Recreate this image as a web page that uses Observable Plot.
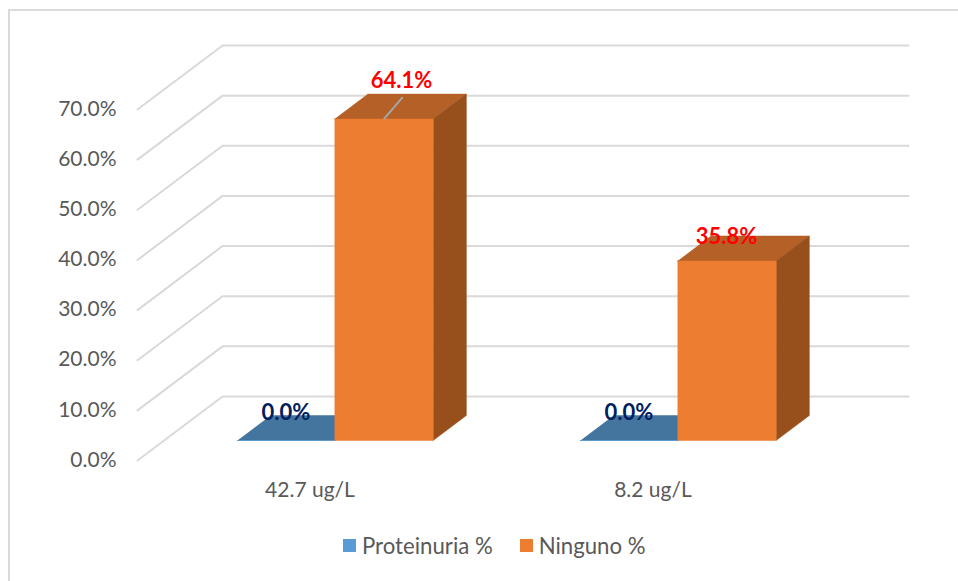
<!DOCTYPE html>
<html><head><meta charset="utf-8">
<script src="https://cdn.jsdelivr.net/npm/d3@7"></script>
<script src="https://cdn.jsdelivr.net/npm/@observablehq/plot@0.6"></script>
<style>
html,body{margin:0;padding:0;background:#fff;overflow:hidden}
#frame{position:absolute;left:8px;top:9px;right:0;bottom:0;border-left:2.5px solid #d9d9d9;border-top:2.5px solid #d9d9d9}
#chart{position:absolute;left:0;top:0}
#chart svg{background:transparent}
#legend{position:absolute;left:343px;top:532px;display:flex;align-items:center;font:22.2px Lato,sans-serif;color:#595959;white-space:nowrap}
#legend i{display:inline-block;width:13px;height:13px;margin-right:6px}
</style></head><body>
<div id="frame"></div><div id="chart"></div>
<div id="legend"></div>
<script>
const categories = ["42.7 ug/L", "8.2 ug/L"];
const seriesNames = ["Proteinuria %", "Ninguno %"];
const proteinuria = [0, 0];
const ninguno = [64.1, 35.8];
const yTicks = [0, 10, 20, 30, 40, 50, 60, 70];

const colors = {
  blue: {front: "#5b9bd5", top: "#44759f", side: "#3f6c94", label: "#002060"},
  orange: {front: "#ed7d31", top: "#b46027", side: "#974f1c", label: "#ff0000"}
};

// oblique projection: depth d (0 = front of floor, 1 = back wall) shifts x and y in data units
const depthX = 0.248, depthY = 12.77;
const px = (u, d) => u + d * depthX;
const py = (v, d) => v + d * depthY;
const barWidth = 0.2875, d0 = 0.3125, d1 = 0.703, barStart = 0.497;

function faces(values, offset, width) {
  const front = [], top = [], side = [];
  values.forEach((v, i) => {
    const a = i + offset, b = a + width;
    const add = (arr, pts) => pts.forEach(([u, val, d]) => arr.push({bar: i, x: px(u, d), y: py(val, d)}));
    add(front, [[a,0,d0],[b,0,d0],[b,v,d0],[a,v,d0]]);
    add(top, [[a,v,d0],[b,v,d0],[b,v,d1],[a,v,d1]]);
    add(side, [[b,0,d0],[b,0,d1],[b,v,d1],[b,v,d0]]);
  });
  return {front, top, side};
}
function barMarks(values, offset, width, c) {
  const f = faces(values, offset, width);
  const m = (data, fill) => Plot.line(data, {x: "x", y: "y", z: "bar", fill, stroke: fill, strokeWidth: 0.5});
  return [m(f.top, c.top), m(f.side, c.side), m(f.front, c.front)];
}

const grid = yTicks.flatMap(t => [
  {t, x: px(0, 0), y: py(t, 0)},
  {t, x: px(0, 1), y: py(t, 1)},
  {t, x: px(2, 1), y: py(t, 1)}
]);

const blueLabels = proteinuria.map((v, i) => ({x: px(i + 0.5 - barWidth / 2, (d0 + d1) / 2), y: py(v, d1), text: v.toFixed(1) + "%"}));
const orangeLabels = ninguno.map((v, i) => ({x: px(i + 0.5 + barWidth / 2, (d0 + d1) / 2), y: py(v, d1), text: v.toFixed(1) + "%"}));
const leader = {x1: px(barStart + barWidth / 2, d0), y1: py(ninguno[0], d0)};
const labelFont = {fontWeight: "bold", fontSize: 22, fontFamily: "Lato", text: "text", x: "x", y: "y"};

const plot = Plot.plot({
  width: 958, height: 530,
  marginLeft: 137, marginRight: 50, marginTop: 45, marginBottom: 70,
  style: {background: "transparent", overflow: "visible"},
  x: {domain: [0, 2 + depthX], axis: null},
  y: {domain: [0, 70 + depthY], axis: null},
  marks: [
    Plot.line(grid, {x: "x", y: "y", z: "t", stroke: "#d9d9d9", strokeWidth: 2}),
    ...barMarks(proteinuria, barStart - 0.283, 0.283, colors.blue),
    ...barMarks(ninguno, barStart, barWidth, colors.orange),
    Plot.link([leader], {x1: "x1", y1: "y1", x2: d => d.x1 + 0.055, y2: d => d.y1 + 4.4, stroke: "#a6a6a6", strokeWidth: 2}),
    Plot.axisY({ticks: yTicks, tickFormat: d => d.toFixed(1) + "%", tickSize: 0, tickPadding: 21, dy: -0.5, label: null, fontSize: 21, fontFamily: "Lato", fill: "#595959"}),
    Plot.axisX({ticks: categories.map((_, i) => i + 0.5), tickFormat: d => categories[Math.floor(d)], tickSize: 0, tickPadding: 22, dx: 1, label: null, fontSize: 21, fontFamily: "Lato", fill: "#595959"}),
    Plot.text(blueLabels, {...labelFont, fill: colors.blue.label, dx: -17, dy: -3}),
    Plot.text(orangeLabels.slice(0, 1), {...labelFont, fill: colors.orange.label, dx: 0, dy: -13}),
    Plot.text(orangeLabels.slice(1), {...labelFont, fill: colors.orange.label, dx: -18, dy: 1})
  ]
});
document.getElementById("chart").append(plot);

const swatches = [colors.blue.front, colors.orange.front];
const legend = document.getElementById("legend");
seriesNames.forEach((name, i) => {
  const item = document.createElement("span");
  item.style.cssText = "display:inline-flex;align-items:center;margin-right:27px";
  const sw = document.createElement("i");
  sw.style.background = swatches[i];
  item.append(sw, document.createTextNode(name));
  legend.append(item);
});
</script>
</body></html>
